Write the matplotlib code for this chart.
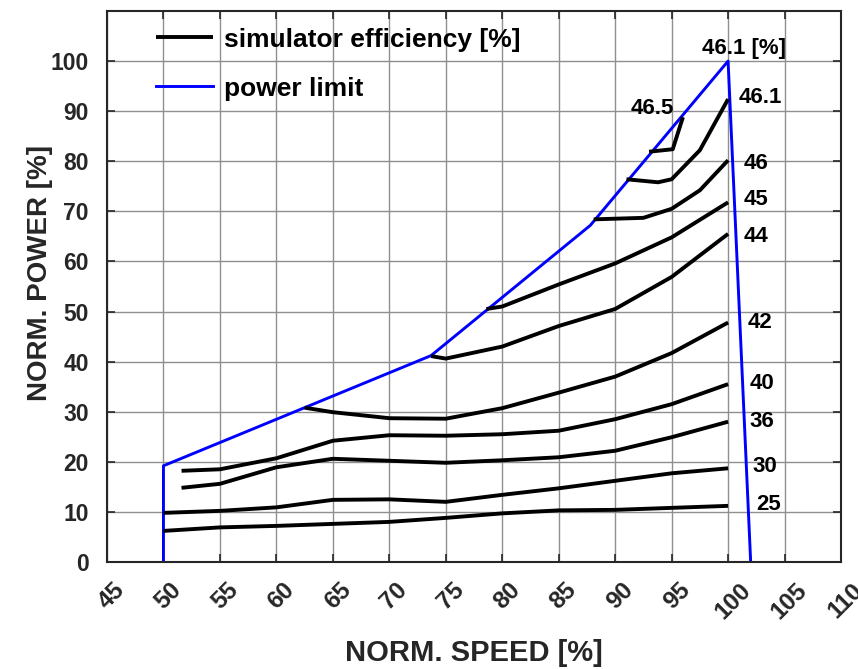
import matplotlib
matplotlib.use("Agg")
import matplotlib.pyplot as plt
import matplotlib.transforms as mtransforms

plt.rcParams['font.family'] = ['Liberation Sans', 'DejaVu Sans']
plt.rcParams['font.weight'] = 'bold'

# ── data ─────────────────────────────────────────────────────────────────────
spd_25 = [50, 55, 60, 65, 70, 75, 80, 85, 90, 95, 100]
pwr_25 = [6.2, 6.9, 7.2, 7.6, 8.0, 8.8, 9.7, 10.3, 10.4, 10.8, 11.2]

spd_30 = [50, 55, 60, 65, 70, 75, 80, 85, 90, 95, 100]
pwr_30 = [9.8, 10.2, 10.9, 12.4, 12.5, 12.0, 13.4, 14.7, 16.2, 17.7, 18.7]

spd_36 = [51.6, 55, 60, 65, 70, 75, 80, 85, 90, 95, 100]
pwr_36 = [14.8, 15.6, 18.9, 20.6, 20.2, 19.8, 20.3, 20.9, 22.2, 24.9, 28.0]

spd_40 = [51.6, 55, 60, 65, 70, 75, 80, 85, 90, 95, 100]
pwr_40 = [18.2, 18.5, 20.7, 24.2, 25.3, 25.2, 25.5, 26.2, 28.5, 31.5, 35.5]

spd_42 = [62.5, 65, 70, 75, 80, 85, 90, 95, 100]
pwr_42 = [30.8, 29.9, 28.7, 28.6, 30.7, 33.8, 37.0, 41.7, 47.8]

spd_44 = [73.7, 75, 80, 85, 90, 95, 100]
pwr_44 = [41.1, 40.6, 43.0, 47.1, 50.5, 56.9, 65.5]

spd_45 = [78.6, 80, 85, 90, 95, 100]
pwr_45 = [50.5, 51.0, 55.4, 59.6, 64.8, 71.8]

spd_46 = [88.1, 92.5, 95, 97.5, 100]
pwr_46 = [68.4, 68.7, 70.5, 74.2, 80.2]

spd_461 = [91.0, 93.8, 95, 97.5, 100]
pwr_461 = [76.4, 75.8, 76.4, 82.2, 92.4]

spd_465 = [93.0, 95.1, 96.0]
pwr_465 = [81.9, 82.4, 88.8]

lim_spd = [50, 50, 73.7, 87.8, 100, 102]
lim_pwr = [0, 19.2, 41.2, 67.2, 100, 0]

x_ticks = [45, 50, 55, 60, 65, 70, 75, 80, 85, 90, 95, 100, 105, 110]
y_ticks = [0, 10, 20, 30, 40, 50, 60, 70, 80, 90, 100]

# label text and where it sits (data coords)
eff_labels = [
    ("46.1 [%]", 101.4, 102.6),
    ("46.1", 100.9, 92.8),
    ("46", 101.4, 79.6),
    ("45", 101.4, 72.4),
    ("44", 101.4, 65.0),
    ("42", 101.7, 47.9),
    ("40", 101.9, 35.7),
    ("36", 101.9, 28.0),
    ("30", 102.2, 19.0),
    ("25", 102.5, 11.4),
    ("46.5", 93.3, 90.6),
]

curves = [
    (spd_25, pwr_25), (spd_30, pwr_30), (spd_36, pwr_36), (spd_40, pwr_40),
    (spd_42, pwr_42), (spd_44, pwr_44), (spd_45, pwr_45), (spd_46, pwr_46),
    (spd_461, pwr_461), (spd_465, pwr_465),
]

# ── figure ───────────────────────────────────────────────────────────────────
fig = plt.figure(figsize=(8.58, 6.69), dpi=100)
ax = fig.add_axes([0.1247, 0.160, 0.8555, 0.8236])

dark = "#262626"
ax.grid(True, color="#8f8f8f", lw=1.0)
ax.set_axisbelow(True)

for i, (s, p) in enumerate(curves):
    ax.plot(s, p, color="black", lw=2.8, solid_capstyle="butt",
            label="simulator efficiency [%]" if i == 0 else None, zorder=3)
ax.plot(lim_spd, lim_pwr, color="#0000ff", lw=2.1, label="power limit", zorder=2)

for txt, x, y in eff_labels:
    ha = "center" if txt in ("46.1 [%]", "46.5") else "left"
    ax.text(x, y, txt, fontsize=16, fontweight="bold", ha=ha, va="center", color="black")

ax.set_xlim(45, 110)
ax.set_ylim(0, 110)
ax.set_xticks(x_ticks)
ax.set_yticks(y_ticks)
ax.set_xticklabels([str(t) for t in x_ticks], rotation=45, ha="center", va="top")

ax.tick_params(direction="in", length=6, width=1.2, top=True, right=True,
               labelsize=16.5, colors=dark)
ax.tick_params(axis="x", pad=12, labelsize=17.5)
ax.tick_params(axis="y", pad=13)
shift = mtransforms.ScaledTranslation(5 / 100, 0, fig.dpi_scale_trans)
for lbl in ax.get_xticklabels():
    lbl.set_transform(lbl.get_transform() + shift)
for sp in ax.spines.values():
    sp.set_color(dark)
    sp.set_linewidth(1.5)

ax.set_xlabel("NORM. SPEED [%]", fontsize=21, fontweight="bold", color=dark, labelpad=11)
ax.set_ylabel("NORM. POWER [%]", fontsize=20, fontweight="bold", color=dark)
ax.yaxis.set_label_coords(-0.074, 0.525)

ax.legend(loc="upper left", bbox_to_anchor=(0.035, 1.013), frameon=False, fontsize=19,
          handlelength=2.15, handletextpad=0.4, labelspacing=0.95)

fig.savefig("out.png", dpi=100)
